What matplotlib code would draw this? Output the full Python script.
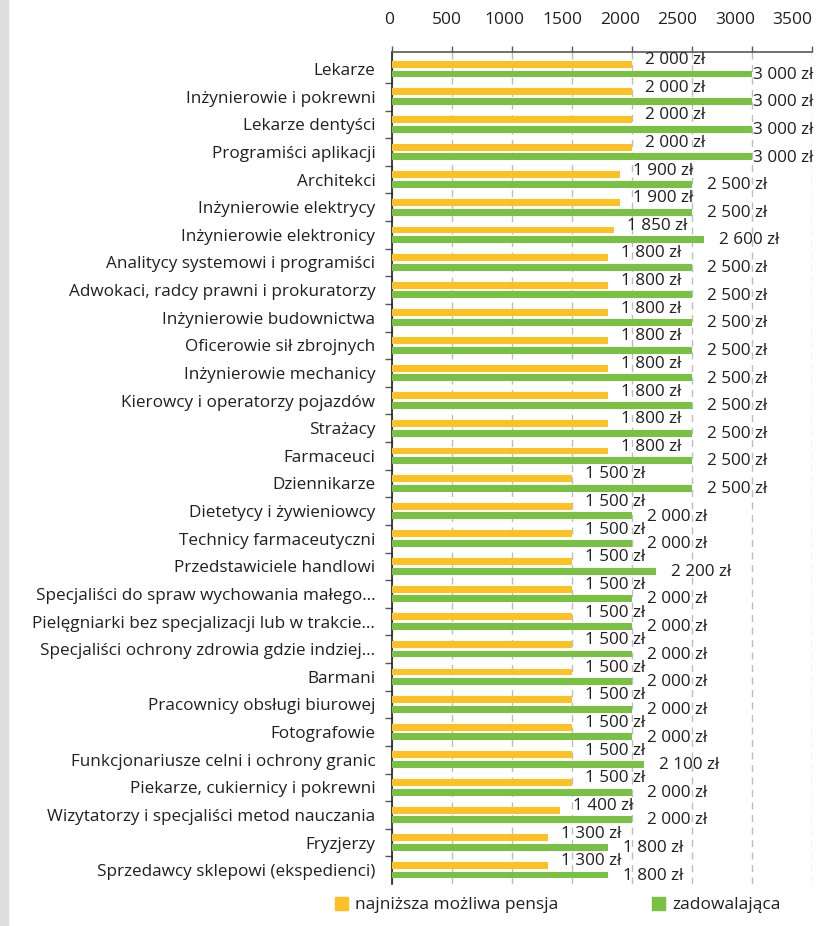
import matplotlib
matplotlib.use("Agg")
import matplotlib.pyplot as plt
from matplotlib.patches import Patch, Rectangle
from matplotlib.transforms import ScaledTranslation

plt.rcParams['font.family'] = ['Open Sans', 'DejaVu Sans']

zawody = [
    "Lekarze", "Inżynierowie i pokrewni", "Lekarze dentyści", "Programiści aplikacji",
    "Architekci", "Inżynierowie elektrycy", "Inżynierowie elektronicy",
    "Analitycy systemowi i programiści", "Adwokaci, radcy prawni i prokuratorzy",
    "Inżynierowie budownictwa", "Oficerowie sił zbrojnych", "Inżynierowie mechanicy",
    "Kierowcy i operatorzy pojazdów", "Strażacy", "Farmaceuci", "Dziennikarze",
    "Dietetycy i żywieniowcy", "Technicy farmaceutyczni", "Przedstawiciele handlowi",
    "Specjaliści do spraw wychowania małego…", "Pielęgniarki bez specjalizacji lub w trakcie…",
    "Specjaliści ochrony zdrowia gdzie indziej…", "Barmani", "Pracownicy obsługi biurowej",
    "Fotografowie", "Funkcjonariusze celni i ochrony granic", "Piekarze, cukiernicy i pokrewni",
    "Wizytatorzy i specjaliści metod nauczania", "Fryzjerzy", "Sprzedawcy sklepowi (ekspedienci)",
]
najnizsza = [2000, 2000, 2000, 2000, 1900, 1900, 1850, 1800, 1800, 1800, 1800, 1800,
             1800, 1800, 1800, 1500, 1500, 1500, 1500, 1500, 1500, 1500, 1500, 1500,
             1500, 1500, 1500, 1400, 1300, 1300]
zadowalajaca = [3000, 3000, 3000, 3000, 2500, 2500, 2600, 2500, 2500, 2500, 2500, 2500,
                2500, 2500, 2500, 2500, 2000, 2000, 2200, 2000, 2000, 2000, 2000, 2000,
                2000, 2100, 2000, 2000, 1800, 1800]
ticks = [0, 500, 1000, 1500, 2000, 2500, 3000, 3500]

yellow = "#fdc124"
green = "#79c143"
txt = "#231f20"
fs = 12.3


def zl(v):
    return f"{v:,}".replace(",", " ") + " zł"


fig = plt.figure(figsize=(8.25, 9.26), dpi=100)
fig.patches.append(Rectangle((0, 0), 8 / 825, 1, transform=fig.transFigure,
                             color="#dedede", zorder=0))
ax = fig.add_axes([392 / 825, 1 - 884 / 926, 420 / 825, 832 / 926])

y = list(range(len(zawody)))
ax.barh([i - 0.175 for i in y], najnizsza, height=0.25, color=yellow, zorder=3)
ax.barh([i + 0.175 for i in y], zadowalajaca, height=0.25, color=green, zorder=3)

for i in y:
    ax.annotate(zl(najnizsza[i]), (najnizsza[i], i - 0.175), xytext=(9.5, 3),
                textcoords="offset points", ha="left", va="center",
                fontsize=fs, color=txt, zorder=4)
    dx = 11 if zadowalajaca[i] < 2900 else 0.5
    ax.annotate(zl(zadowalajaca[i]), (zadowalajaca[i], i + 0.175), xytext=(dx, -0.5),
                textcoords="offset points", ha="left", va="center",
                fontsize=fs, color=txt, zorder=4)

ax.set_xlim(0, 3500)
ax.set_ylim(29.5, -0.62)
ax.xaxis.tick_top()
ax.set_xticks(ticks)
ax.tick_params(axis="x", which="major", length=4, width=1, color="#595959",
               pad=13, labelsize=12.5, labelcolor=txt)
for v, lab in zip(ticks, ax.get_xticklabels()):
    shift = -(2 + 12 * v / 3500) / 72
    lab.set_transform(lab.get_transform() + ScaledTranslation(shift, 0, fig.dpi_scale_trans))
ax.grid(axis="x", color="#bdbdbd", linestyle=(0, (5, 4)), linewidth=1, zorder=0)

ax.set_yticks(y)
ax.set_yticklabels(zawody, fontsize=fs, color=txt)
ax.set_yticks([i + 0.5 for i in y[:-1]], minor=True)
ax.tick_params(axis="y", which="major", length=0, pad=12)
ax.tick_params(axis="y", which="minor", length=5, width=1, color="#595959")

for s in ["right", "bottom"]:
    ax.spines[s].set_visible(False)
ax.spines["top"].set_color("#595959")
ax.spines["top"].set_linewidth(1.2)
ax.spines["left"].set_color("#231f20")
ax.spines["left"].set_linewidth(1.2)

handles = [Patch(color=yellow), Patch(color=green)]
fig.legend(handles, ["najniższa możliwa pensja", "zadowalająca"], ncol=2,
           loc="center", bbox_to_anchor=(558 / 825, 1 - 905 / 926), frameon=False,
           fontsize=12.5, handlelength=0.75, handleheight=0.75, handletextpad=0.4,
           columnspacing=5.4, labelcolor=txt)

fig.savefig("out.png", dpi=100)
